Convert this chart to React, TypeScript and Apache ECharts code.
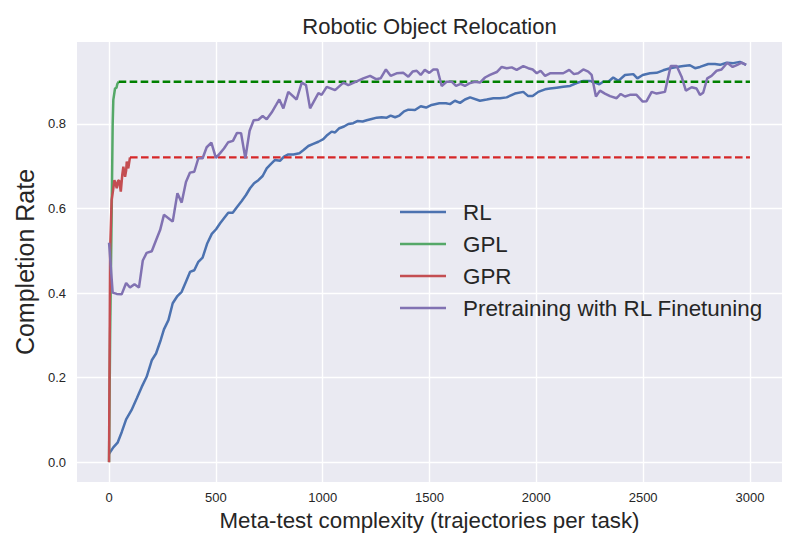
import React, { useEffect, useRef } from "react";
import * as echarts from "echarts";

const xTicks = [0, 500, 1000, 1500, 2000, 2500, 3000];
const yTicks = [0, 0.2, 0.4, 0.6, 0.8];

const rlX = [0, 20, 40, 60, 80, 105, 130, 153, 176, 200, 220, 242, 257, 278, 298, 320, 340, 360, 379, 399, 418, 438, 460, 481, 501, 520, 538, 558, 579, 600, 621, 641, 660, 679, 699, 719, 738, 757, 777, 800, 819, 839, 863, 891, 909, 933, 956, 980, 1003, 1022, 1042, 1058, 1078, 1100, 1120, 1143, 1162, 1187, 1206, 1229, 1253, 1276, 1300, 1318, 1339, 1359, 1381, 1401, 1432, 1459, 1484, 1510, 1546, 1577, 1596, 1619, 1643, 1666, 1690, 1736, 1768, 1799, 1830, 1861, 1900, 1939, 1962, 1983, 2009, 2041, 2064, 2095, 2126, 2158, 2189, 2220, 2251, 2275, 2295, 2313, 2337, 2360, 2384, 2415, 2454, 2473, 2498, 2532, 2563, 2594, 2626, 2657, 2688, 2719, 2743, 2766, 2805, 2836, 2860, 2891, 2922, 2953, 2982];
const rlY = [0.02, 0.035, 0.046, 0.072, 0.101, 0.123, 0.151, 0.178, 0.202, 0.241, 0.257, 0.289, 0.314, 0.336, 0.376, 0.393, 0.403, 0.427, 0.45, 0.454, 0.474, 0.484, 0.518, 0.54, 0.551, 0.565, 0.577, 0.59, 0.59, 0.604, 0.618, 0.632, 0.648, 0.66, 0.667, 0.677, 0.695, 0.705, 0.715, 0.713, 0.723, 0.728, 0.728, 0.731, 0.738, 0.748, 0.753, 0.758, 0.764, 0.774, 0.782, 0.78, 0.79, 0.794, 0.8, 0.802, 0.807, 0.806, 0.809, 0.812, 0.815, 0.816, 0.815, 0.82, 0.816, 0.82, 0.83, 0.834, 0.833, 0.842, 0.839, 0.845, 0.849, 0.849, 0.847, 0.855, 0.85, 0.858, 0.863, 0.855, 0.858, 0.861, 0.861, 0.863, 0.872, 0.876, 0.866, 0.866, 0.876, 0.882, 0.884, 0.886, 0.888, 0.89, 0.897, 0.902, 0.902, 0.898, 0.894, 0.9, 0.9, 0.91, 0.902, 0.916, 0.918, 0.908, 0.916, 0.92, 0.921, 0.927, 0.932, 0.935, 0.937, 0.939, 0.932, 0.935, 0.942, 0.942, 0.94, 0.945, 0.944, 0.947, 0.94];

const gplX = [0, 5, 10, 13, 17, 20, 28, 35, 39, 45];
const gplY = [0, 0.3, 0.5, 0.62, 0.8, 0.857, 0.884, 0.886, 0.895, 0.9];
const gplRefX = [45, 3000];
const gplRefY = [0.9, 0.9];

const gprX = [0, 5, 12, 18, 25, 30, 36, 42, 47, 55, 62, 67, 75, 80, 83, 90, 98];
const gprY = [0, 0.5, 0.62, 0.64, 0.667, 0.66, 0.648, 0.665, 0.667, 0.64, 0.68, 0.699, 0.675, 0.69, 0.711, 0.695, 0.721];
const gprRefX = [98, 3000];
const gprRefY = [0.721, 0.721];

const ptX = [0, 17, 36, 59, 80, 98, 119, 140, 158, 176, 200, 220, 239, 257, 278, 298, 320, 340, 360, 379, 399, 418, 438, 457, 479, 500, 520, 538, 558, 580, 599, 618, 638, 658, 677, 699, 719, 738, 761, 782, 797, 816, 839, 878, 902, 922, 941, 980, 995, 1019, 1058, 1097, 1120, 1159, 1190, 1222, 1250, 1271, 1296, 1318, 1346, 1377, 1401, 1421, 1440, 1459, 1478, 1499, 1518, 1537, 1557, 1580, 1604, 1624, 1646, 1666, 1686, 1713, 1736, 1760, 1783, 1815, 1838, 1861, 1885, 1908, 1939, 1962, 1983, 2002, 2020, 2041, 2064, 2087, 2126, 2154, 2176, 2196, 2220, 2243, 2259, 2279, 2298, 2321, 2345, 2376, 2395, 2415, 2438, 2469, 2498, 2516, 2540, 2563, 2602, 2629, 2657, 2680, 2700, 2727, 2750, 2766, 2781, 2800, 2820, 2844, 2867, 2894, 2919, 2941, 2961, 2982];
const ptY = [0.519, 0.401, 0.398, 0.397, 0.424, 0.413, 0.421, 0.413, 0.477, 0.495, 0.499, 0.525, 0.549, 0.585, 0.577, 0.569, 0.636, 0.614, 0.663, 0.685, 0.687, 0.719, 0.719, 0.745, 0.756, 0.72, 0.731, 0.742, 0.757, 0.76, 0.779, 0.778, 0.719, 0.784, 0.809, 0.81, 0.819, 0.811, 0.827, 0.845, 0.858, 0.837, 0.876, 0.858, 0.898, 0.892, 0.837, 0.873, 0.869, 0.888, 0.88, 0.898, 0.892, 0.901, 0.908, 0.914, 0.906, 0.908, 0.929, 0.914, 0.92, 0.921, 0.912, 0.924, 0.926, 0.916, 0.928, 0.921, 0.929, 0.929, 0.89, 0.9, 0.9, 0.89, 0.895, 0.89, 0.896, 0.9, 0.898, 0.91, 0.916, 0.923, 0.935, 0.932, 0.934, 0.928, 0.937, 0.932, 0.929, 0.92, 0.926, 0.914, 0.92, 0.92, 0.92, 0.928, 0.918, 0.92, 0.929, 0.924, 0.916, 0.865, 0.879, 0.872, 0.866, 0.861, 0.871, 0.865, 0.869, 0.869, 0.853, 0.854, 0.876, 0.872, 0.876, 0.937, 0.937, 0.912, 0.879, 0.887, 0.884, 0.869, 0.874, 0.908, 0.914, 0.926, 0.929, 0.945, 0.935, 0.94, 0.945, 0.94];

const zip = (xs: number[], ys: number[]) => xs.map((x, i) => [x, ys[i]]);

const FONT = "'Liberation Sans', Arial, Helvetica, sans-serif";
const TEXT = "#262626";

export default function App() {
  const ref = useRef<HTMLDivElement>(null);
  useEffect(() => {
    document.body.style.margin = "0";
    if (!ref.current) return;
    const chart = echarts.init(ref.current, undefined, { renderer: "svg" });
    const solid = (name: string, color: string, data: number[][]) => ({
      name,
      type: "line",
      data,
      symbol: "none",
      showSymbol: false,
      color,
      itemStyle: { color },
      lineStyle: { color, width: 2.5 },
      emphasis: { disabled: true },
    });
    const dashed = (name: string, color: string, data: number[][]) => ({
      name,
      type: "line",
      data,
      symbol: "none",
      showSymbol: false,
      color,
      lineStyle: { color, width: 2.3, type: [7.6, 3.4] },
      emphasis: { disabled: true },
    });
    chart.setOption({
      animation: false,
      backgroundColor: "#ffffff",
      textStyle: { fontFamily: FONT },
      graphic: [
        {
          type: "text",
          x: 429.5,
          y: 26,
          style: {
            text: "Robotic Object Relocation",
            fontSize: 22,
            fontFamily: FONT,
            fill: TEXT,
            textAlign: "center",
            textVerticalAlign: "middle",
          },
        },
      ],
      grid: { left: 77, top: 42, width: 705, height: 440, show: true, backgroundColor: "#EAEAF2", borderWidth: 0 },
      legend: {
        orient: "vertical",
        left: 400,
        top: 201,
        padding: 0,
        itemGap: 10,
        itemWidth: 46,
        itemHeight: 2.5,
        icon: "rect",
        data: ["RL", "GPL", "GPR", "Pretraining with RL Finetuning"],
        textStyle: { fontSize: 22.4, lineHeight: 22, color: TEXT, fontFamily: FONT, padding: [0, 0, 0, 12] },
      },
      xAxis: {
        type: "value",
        min: -150,
        max: 3150,
        name: "Meta-test complexity (trajectories per task)",
        nameLocation: "middle",
        nameGap: 27,
        nameTextStyle: { fontSize: 22.3, color: TEXT, fontFamily: FONT },
        axisLine: { show: false },
        axisTick: { show: false, customValues: xTicks },
        axisLabel: {
          customValues: xTicks,
          color: TEXT,
          fontSize: 13,
          margin: 9,
          fontFamily: FONT,
          formatter: (v: number) => String(v),
        },
        splitLine: { show: true, lineStyle: { color: "#ffffff", width: 1.4 } },
      },
      yAxis: {
        type: "value",
        min: -0.047,
        max: 0.994,
        name: "Completion Rate",
        nameLocation: "middle",
        nameGap: 38,
        nameRotate: 90,
        nameTextStyle: { fontSize: 25, color: TEXT, fontFamily: FONT },
        axisLine: { show: false },
        axisTick: { show: false, customValues: yTicks },
        axisLabel: {
          customValues: yTicks,
          color: TEXT,
          fontSize: 13,
          margin: 11,
          fontFamily: FONT,
          formatter: (v: number) => v.toFixed(1),
        },
        splitLine: { show: true, lineStyle: { color: "#ffffff", width: 1.4 } },
      },
      series: [
        solid("RL", "#4C72B0", zip(rlX, rlY)),
        solid("GPL", "#55A868", zip(gplX, gplY)),
        dashed("GPL best", "#008000", zip(gplRefX, gplRefY)),
        solid("GPR", "#C44E52", zip(gprX, gprY)),
        dashed("GPR best", "#D62728", zip(gprRefX, gprRefY)),
        solid("Pretraining with RL Finetuning", "#8172B2", zip(ptX, ptY)),
      ],
    });
    return () => chart.dispose();
  }, []);
  return <div ref={ref} style={{ width: 800, height: 550 }} />;
}
